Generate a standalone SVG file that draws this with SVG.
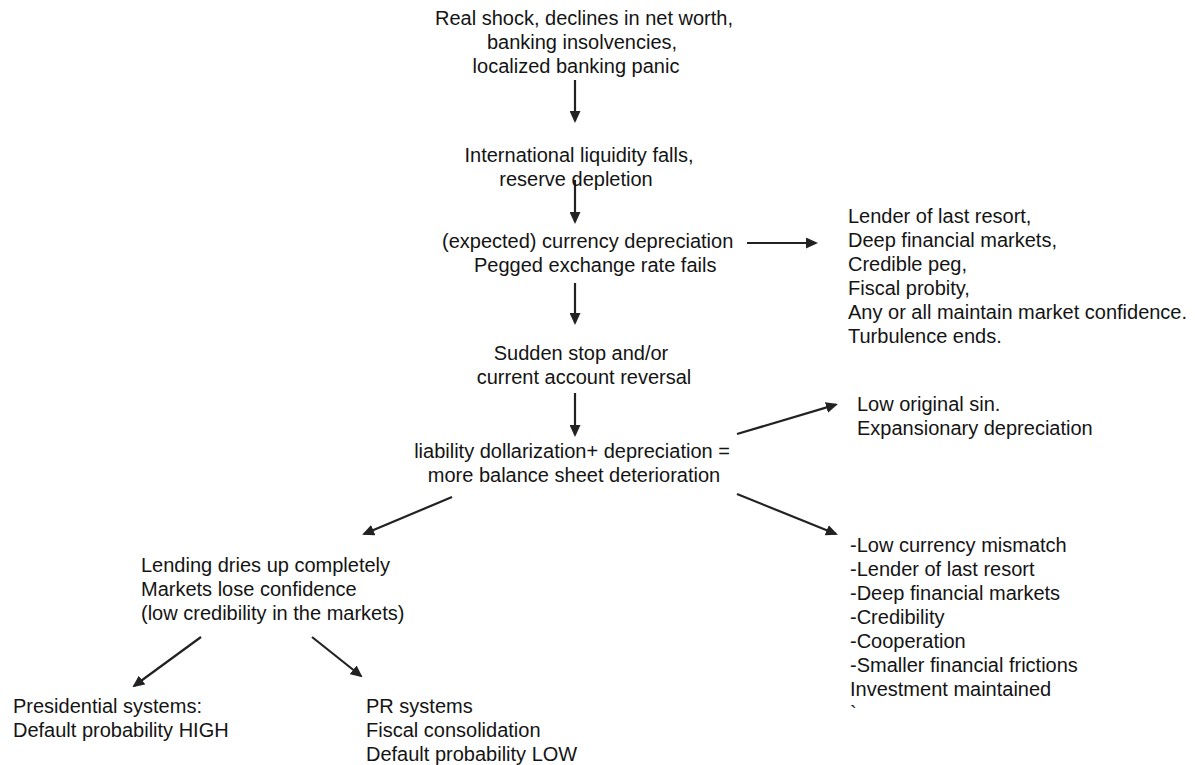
<svg xmlns="http://www.w3.org/2000/svg" width="1195" height="765" viewBox="0 0 1195 765">
<style>
text{font-family:"Liberation Sans",Arial,sans-serif;font-size:20px;fill:#141414}
.c{text-anchor:middle}
.e{stroke:#222;stroke-width:2.2;fill:none;marker-end:url(#ah)}
</style>
<defs>
<marker id="ah" markerUnits="userSpaceOnUse" markerWidth="12" markerHeight="11" refX="10" refY="5.5" orient="auto">
<path d="M0,0 L12,5.5 L0,11 z" fill="#222"/>
</marker>
</defs>
<rect width="1195" height="765" fill="#fff"/>
<g id="connectors">
<line class="e" x1="575" y1="80" x2="575" y2="121"/>
<line class="e" x1="575" y1="180" x2="575" y2="222"/>
<line class="e" x1="575" y1="283" x2="575" y2="323"/>
<line class="e" x1="575" y1="393" x2="575" y2="435"/>
<line class="e" x1="747" y1="243" x2="816" y2="243"/>
<line class="e" x1="737" y1="434" x2="836" y2="404.6"/>
<line class="e" x1="737" y1="494" x2="836" y2="534"/>
<line class="e" x1="452" y1="497" x2="364" y2="534"/>
<line class="e" x1="201" y1="637" x2="134" y2="686"/>
<line class="e" x1="312" y1="637" x2="361" y2="676"/>
</g>
<g id="n_shock">
<text class="c" x="584" y="25">Real shock, declines in net worth,</text>
<text class="c" x="582" y="49">banking insolvencies,</text>
<text class="c" x="576" y="73">localized banking panic</text>
</g>
<g id="n_liquidity">
<text class="c" x="579" y="162">International liquidity falls,</text>
<text class="c" x="576" y="186">reserve depletion</text>
</g>
<g id="n_depreciation">
<text x="442" y="248">(expected) currency depreciation</text>
<text x="474" y="272">Pegged exchange rate fails</text>
</g>
<g id="n_confidence">
<text x="848" y="223">Lender of last resort,</text>
<text x="848" y="247">Deep financial markets,</text>
<text x="848" y="271">Credible peg,</text>
<text x="848" y="295">Fiscal probity,</text>
<text x="848" y="319">Any or all maintain market confidence.</text>
<text x="848" y="343">Turbulence ends.</text>
</g>
<g id="n_suddenstop">
<text class="c" x="581" y="360">Sudden stop and/or</text>
<text class="c" x="584" y="384">current account reversal</text>
</g>
<g id="n_balance">
<text class="c" x="572" y="458">liability dollarization+ depreciation =</text>
<text class="c" x="574" y="482">more balance sheet deterioration</text>
</g>
<g id="n_lowsin">
<text x="857" y="411">Low original sin.</text>
<text x="857" y="435">Expansionary depreciation</text>
</g>
<g id="n_mismatch">
<text x="850" y="552">-Low currency mismatch</text>
<text x="850" y="576">-Lender of last resort</text>
<text x="850" y="600">-Deep financial markets</text>
<text x="850" y="624">-Credibility</text>
<text x="850" y="648">-Cooperation</text>
<text x="850" y="672">-Smaller financial frictions</text>
<text x="850" y="696">Investment maintained</text>
<text x="850" y="720">`</text>
</g>
<g id="n_lending">
<text x="141" y="572">Lending dries up completely</text>
<text x="141" y="596">Markets lose confidence</text>
<text x="141" y="620">(low credibility in the markets)</text>
</g>
<g id="n_presidential">
<text x="13" y="713">Presidential systems:</text>
<text x="13" y="737">Default probability HIGH</text>
</g>
<g id="n_pr">
<text x="366" y="713">PR systems</text>
<text x="366" y="737">Fiscal consolidation</text>
<text x="366" y="761">Default probability LOW</text>
</g>
</svg>
